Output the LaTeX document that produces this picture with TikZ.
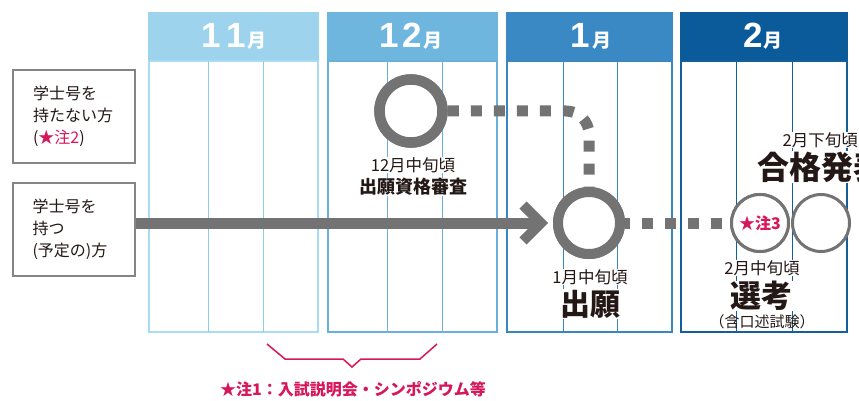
\documentclass[tikz,border=0pt]{standalone}
\usepackage{fontspec}
\setmainfont{Noto Sans CJK JP}
\newfontfamily\digitfont{Liberation Sans}
\usetikzlibrary{calc}
\definecolor{ink}{HTML}{231815}
\definecolor{grayA}{HTML}{737373}
\definecolor{boxgray}{HTML}{858585}
\definecolor{pinkA}{HTML}{D6175B}
\definecolor{hA}{HTML}{9ED3ED}
\definecolor{bA}{HTML}{A9DBF3}
\definecolor{lA}{HTML}{8ECBEA}
\definecolor{hB}{HTML}{6FB6DF}
\definecolor{bB}{HTML}{69B1DC}
\definecolor{hC}{HTML}{3A89C4}
\definecolor{bC}{HTML}{3886C2}
\definecolor{hD}{HTML}{0B5A9A}
\definecolor{bD}{HTML}{135F9E}
\newcommand{\dg}[1]{{\digitfont\bfseries\fontsize{35}{35}\selectfont #1}}
\newcommand{\mo}{{\fontsize{19}{19}\selectfont\bfseries 月}}
\tikzset{
  hdrtext/.style={text=white, inner sep=0pt, anchor=base},
  sidebox/.style={draw=boxgray, line width=2pt, minimum width=122pt, minimum height=93pt,
    inner xsep=20pt, text width=82pt, align=left, text=ink,
    font=\fontsize{16}{22}\selectfont},
  smalllbl/.style={text=ink, font=\fontsize{16.5}{17}\selectfont, inner sep=0.5pt, fill=white},
  boldlbl/.style={text=ink, inner sep=0.5pt, fill=white},
  thickring/.style={circle, draw=grayA, fill=white, inner sep=0pt},
  thinring/.style={circle, draw=grayA, fill=white, inner sep=0pt, line width=3pt, minimum size=57pt},
  dots/.style={draw=grayA, line width=11pt, dash pattern=on 11pt off 12pt},
  noteline/.style={draw=pinkA, line width=1.5pt}
}
\newcommand{\panel}[6]{%
  \fill[#3] (#1,12) rectangle (#2,61);
  \draw[#4, line width=1pt] (#5,61) -- (#5,332);
  \draw[#4, line width=1pt] (#6,61) -- (#6,332);
  \draw[#4, line width=2pt] (#1+1,61) rectangle (#2-1,332);
}
\begin{document}
\begin{tikzpicture}[x=1pt,y=-1pt]
\useasboundingbox[fill=white] (0,0) rectangle (859,401);

% month panels
\panel{148}{319}{hA}{bA}{208}{263}
\draw[lA, line width=1pt] (208,61) -- (208,332) (263,61) -- (263,332);
\panel{327}{498}{hB}{bB}{387}{442}
\panel{506}{673}{hC}{bC}{563}{617}
\panel{680}{848}{hD}{bD}{736}{792}

\node[hdrtext] (m11) at (234,48) {\dg{1}\kern6pt\dg{1}\kern2pt\mo};
\node[hdrtext] (m12) at (411,48) {\dg{1}\kern4pt\dg{2}\kern2pt\mo};
\node[hdrtext] (m1) at (591,48) {\dg{1}\kern2pt\mo};
\node[hdrtext] (m2) at (763,48) {\dg{2}\kern1pt\mo};

% side boxes
\node[sidebox] (box1) at (74,116.5) {学士号を\\持たない方\\(\textcolor{pinkA}{★注2})};
\node[sidebox] (box2) at (73.5,229.5) {学士号を\\持つ\\(予定の)方};

% rings
\node[thickring, line width=10.5pt, minimum size=63pt] (shinsa) at (411,111) {};
\node[thickring, line width=10pt, minimum size=62pt] (shutsugan) at (589,223) {};
\node[thinring, text=pinkA, font=\fontsize{16}{16}\selectfont\bfseries] (senko) at (760,223) {★注3};
\node[thinring] (happyo) at (821,223) {};

% main arrow
\draw[draw=grayA, line width=11pt] (box2.east |- shutsugan.west) -- ([xshift=-12pt]shutsugan.west);
\draw[draw=grayA, line width=10pt, miter limit=10]
  ([shift={(-30pt,-18pt)}]shutsugan.west) -- ([xshift=-12pt]shutsugan.west) -- ([shift={(-30pt,18pt)}]shutsugan.west);

% dotted connectors
\draw[dots, rounded corners=23pt] (shinsa.east) -| (shutsugan.north);
\draw[dots, dash phase=6.5pt] (shutsugan.east) -- (senko.west);

% redraw rings on top
\node[thickring, line width=10.5pt, minimum size=63pt] at (shinsa) {};
\node[thickring, line width=10pt, minimum size=62pt] at (shutsugan) {};
\node[thinring, text=pinkA, font=\fontsize{16}{16}\selectfont\bfseries] at (senko) {★注3};

% labels
\node[smalllbl] (t12) at (413,165) {12月中旬頃};
\node[boldlbl, font=\fontsize{18}{18}\selectfont\bfseries] (t12b) at (413,187) {出願資格審査};
\node[smalllbl] (t1) at (590,277) {1月中旬頃};
\node[boldlbl, font=\fontsize{30}{30}\selectfont\bfseries] (t1b) at (590,304) {出願};
\node[smalllbl] (t2) at (762,268) {2月中旬頃};
\node[boldlbl, font=\fontsize{31}{31}\selectfont\bfseries] (t2b) at (761,296) {選考};
\node[text=ink, font=\fontsize{15}{15}\selectfont, inner sep=0.5pt] (t2c) at (762,322) {（含口述試験）};
\node[smalllbl, anchor=west] (t3) at (782,140) {2月下旬頃};
\node[boldlbl, anchor=west, font=\fontsize{32}{32}\selectfont\bfseries] (t3b) at (757,167) {合格発表};

% note 1 brace
\draw[noteline] (267,344) -- (285,359) -- (343,359) -- (352,367) -- (361,359) -- (420,359) -- (437,344);
\node[text=pinkA, font=\fontsize{16}{16}\selectfont\bfseries] (note1) at (353,389) {★注1：入試説明会・シンポジウム等};
\end{tikzpicture}
\end{document}
